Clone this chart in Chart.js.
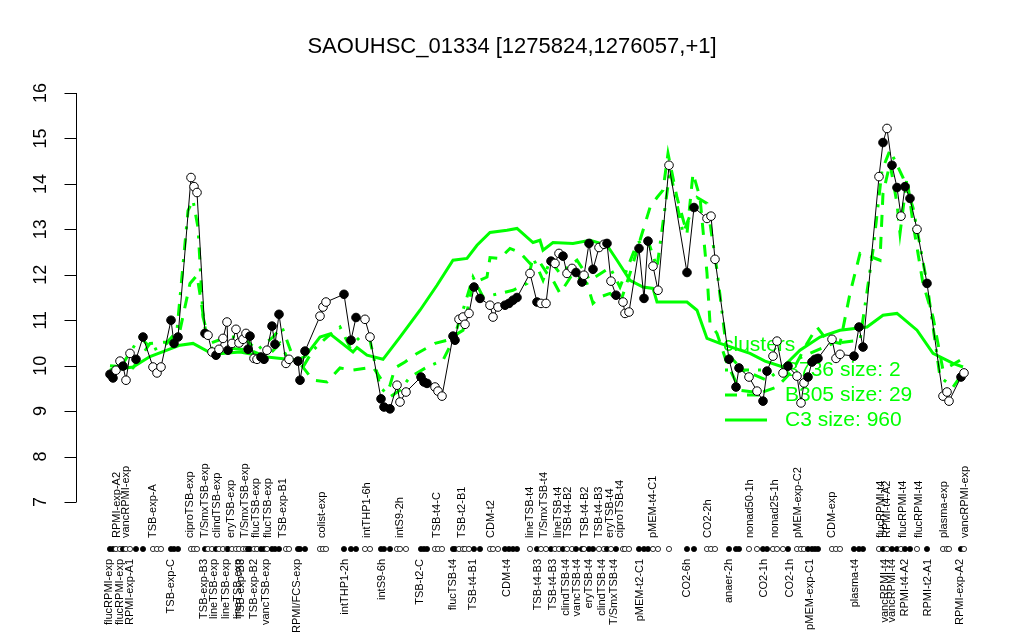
<!DOCTYPE html>
<html>
<head>
<meta charset="utf-8">
<script src="https://cdn.jsdelivr.net/npm/chart.js@4.4.1/dist/chart.umd.min.js"></script>
<style>
  body { margin: 0; background: #fff; }
  #wrap { width: 1024px; height: 640px; }
</style>
</head>
<body>
<div id="wrap"><canvas id="chart" width="1024" height="640"></canvas></div>
<script>
// sample positions along the x axis and expression of SAOUHSC_01334
const samplePos = [1.0,1.6,2.2,3.0,3.6,4.2,5.0,6.2,7.6,9.6,10.4,11.2,13.2,13.8,14.6,17.2,17.8,18.4,20.0,20.6,21.4,22.2,22.8,23.6,24.4,24.6,25.4,26.2,26.8,27.6,28.2,28.6,29.0,29.8,30.4,31.2,31.8,32.4,33.4,34.0,34.8,36.2,36.8,38.6,39.0,40.0,43.0,43.6,44.2,47.8,49.2,50.2,52.0,53.0,55.2,55.8,57.0,58.4,59.0,60.2,63.2,63.8,64.4,66.0,66.6,67.4,69.6,70.0,70.8,71.6,72.0,72.8,73.8,75.0,77.0,77.6,78.6,80.0,80.8,81.6,82.4,85.0,86.4,87.2,88.2,89.2,90.0,90.8,91.6,92.4,93.4,94.2,95.4,95.8,96.8,97.6,98.8,99.8,100.4,101.2,102.2,103.6,104.0,104.8,106.8,107.8,108.6,109.6,110.6,112.8,116.4,117.8,120.4,121.2,122.0,124.8,126.2,126.8,128.8,130.4,131.6,132.4,133.6,134.4,135.6,136.6,138.4,139.2,139.8,140.6,141.4,142.0,142.6,145.4,146.2,147.0,149.8,150.8,151.6,154.8,155.6,156.4,157.4,158.4,159.2,160.0,161.0,162.4,164.4,167.6,168.4,168.8,171.2,171.8];
const expression = [9.81,9.73,9.90,10.10,9.99,9.68,10.27,10.14,10.63,9.97,9.84,9.97,11.00,10.49,10.63,14.14,13.94,13.81,10.71,10.67,10.30,10.23,10.36,10.60,10.96,10.34,10.49,10.80,10.50,10.58,10.71,10.36,10.65,10.16,10.14,10.19,10.14,10.34,10.87,10.47,11.13,10.05,10.14,10.10,9.68,10.32,11.09,11.29,11.40,11.57,10.56,11.06,11.02,10.63,9.27,9.09,9.05,9.57,9.20,9.42,9.75,9.64,9.61,9.53,9.44,9.33,10.65,10.56,11.02,11.07,10.91,11.15,11.73,11.48,11.33,11.07,11.29,11.33,11.37,11.44,11.50,12.03,11.40,11.37,11.37,12.30,12.25,12.47,12.41,12.03,12.14,12.05,11.84,11.99,12.69,12.12,12.60,12.67,12.69,11.86,11.55,11.40,11.15,11.18,12.58,11.48,12.74,12.19,11.66,14.41,12.05,13.48,13.24,13.29,12.34,10.14,9.53,9.95,9.75,9.44,9.22,9.88,10.21,10.54,9.84,9.99,9.77,9.18,9.62,9.75,10.08,10.14,10.16,10.58,10.16,10.25,10.21,10.85,10.41,14.16,14.91,15.22,14.41,13.92,13.29,13.94,13.68,13.00,11.81,9.33,9.42,9.22,9.75,9.84];
const filledMark = [1,1,0,0,1,0,0,1,1,0,0,0,1,1,1,0,0,0,1,0,0,1,0,0,0,1,0,0,0,0,0,1,1,0,0,1,1,0,1,1,1,0,0,1,1,1,0,0,0,1,1,1,0,0,1,1,1,0,0,0,1,1,1,0,0,0,1,1,0,0,0,0,1,1,0,0,0,1,1,1,1,0,1,0,0,1,0,0,1,0,0,1,1,0,1,1,0,0,1,0,1,0,0,0,1,1,1,0,0,0,1,1,0,0,0,1,1,1,0,0,1,1,0,0,0,1,0,0,0,1,1,1,1,0,0,0,1,1,1,0,1,0,1,1,0,1,1,0,1,0,0,0,1,0];

// cluster profiles
const c3Pos = [1.0,5.6,9.0,12.4,15.0,17.6,21.6,27.0,32.4,38.4,40.0,43.0,45.0,49.6,50.4,52.4,55.6,59.0,63.0,66.4,69.6,72.4,74.4,77.0,80.4,82.4,85.6,87.0,87.6,89.6,93.6,97.0,100.4,102.4,105.0,107.6,109.6,110.4,116.4,118.4,120.4,123.0,129.0,132.0,135.6,139.0,143.0,147.0,152.4,155.6,158.4,159.6,162.4,165.6,169.6,171.6];
const c3Values = [9.90,9.97,10.20,10.34,10.45,10.49,10.25,10.30,10.19,10.12,10.20,10.63,10.70,10.30,10.40,10.23,10.14,10.63,11.22,11.77,12.32,12.36,12.65,12.93,12.98,13.02,12.71,12.76,12.54,12.71,12.69,12.76,12.65,12.32,11.88,11.73,11.70,11.40,11.40,11.22,10.60,10.49,10.27,10.10,9.97,10.34,10.63,10.78,10.85,11.11,11.15,11.04,10.78,10.27,10.05,9.97];
const b305Pos = [1.0,5.6,9.0,12.4,15.0,17.0,18.4,19.4,20.4,21.6,25.6,29.0,32.4,35.0,36.4,39.0,41.6,44.4,47.0,49.4,53.6,55.6,57.0,58.0,60.0,62.4,66.0,68.4,71.6,73.6,76.4,77.0,79.0,81.0,83.0,85.0,87.0,88.4,89.6,91.0,93.6,96.4,97.6,99.0,101.0,103.0,105.0,107.0,109.0,110.4,111.6,112.6,114.4,116.4,117.6,119.0,120.4,121.0,122.4,124.4,127.0,131.0,134.4,137.6,140.4,142.4,144.4,147.0,149.0,151.0,153.6,155.0,155.6,157.0,158.4,159.0,160.4,161.6,163.6,165.6,167.6,171.0];
const b305Values = [10.00,9.95,10.49,10.52,10.78,11.81,11.99,11.29,10.56,10.34,10.38,10.34,10.19,10.49,10.19,10.05,9.68,9.64,9.95,9.90,9.97,9.64,9.57,9.95,10.08,10.27,10.49,10.56,10.78,11.81,11.95,12.38,12.36,12.58,12.49,12.25,12.27,12.03,11.88,11.59,12.03,11.81,11.37,11.51,11.59,11.37,12.03,12.76,13.48,13.70,13.86,14.67,13.70,12.91,14.23,13.70,12.03,10.93,10.71,10.05,9.46,9.40,9.53,9.90,10.49,10.85,10.56,10.49,11.59,12.47,12.38,12.32,13.79,14.45,13.57,12.91,14.14,13.13,11.81,11.07,9.90,10.12];
const b736Pos = [1.0,3.6,7.0,9.6,12.4,14.4,16.6,17.6,18.6,19.6,21.0,24.4,27.6,30.4,33.6,35.4,37.6,39.6,41.6,44.4,47.0,49.0,51.0,53.0,55.0,57.0,59.0,61.0,64.4,67.6,69.6,71.6,73.6,75.6,79.0,81.6,84.4,85.6,87.6,89.0,91.0,94.4,97.0,101.0,103.0,106.4,108.4,110.4,113.0,115.6,118.4,120.4,122.4,124.4,127.6,132.4,136.4,141.0,145.6,151.0,153.6,155.4,157.0,159.6,161.6,164.4,167.0,169.6,171.6];
const b736Values = [9.90,10.05,10.63,10.34,10.49,10.78,13.41,13.64,13.04,11.07,10.49,10.63,10.63,10.34,10.63,10.85,10.19,9.97,10.34,10.63,10.85,10.41,10.63,10.56,9.53,9.31,9.46,9.75,9.97,10.12,10.56,11.22,11.95,11.51,11.59,11.66,11.81,12.38,11.88,12.32,12.03,12.32,11.88,12.16,11.73,12.69,12.82,12.16,14.30,12.91,13.70,13.57,12.10,10.27,9.90,9.68,10.05,10.27,10.49,10.56,12.54,14.30,14.74,14.14,13.48,11.81,9.75,9.53,9.84];

// condition labels written above and below the marker row
const topLabelPos = [2.4,4.2,9.6,17.0,20.0,22.4,25.2,28.0,30.2,32.6,35.6,43.4,52.4,59.0,66.4,71.4,77.2,85.0,87.8,90.6,92.6,96.0,98.8,101.0,103.0,109.6,120.6,129.0,134.0,138.6,145.4,155.2,156.4,159.6,162.8,167.8,172.0];
const topLabelText = ["RPMI-exp-A2","vancRPMI-exp","TSB-exp-A","ciproTSB-exp","T/SmxTSB-exp","clindTSB-exp","eryTSB-exp","T/SmxTSB-exp","flucTSB-exp","flucTSB-exp","TSB-exp-B1","colist-exp","intTHP1-6h","intS9-2h","TSB-t4-C","TSB-t2-B1","CDM-t2","lineTSB-t4","T/SmxTSB-t4","lineTSB-t4","TSB-t4-B2","TSB-t4-B2","TSB-t4-B3","eryTSB-t4","ciproTSB-t4","pMEM-t4-C1","CO2-2h","nonad50-1h","nonad25-1h","pMEM-exp-C2","CDM-exp","flucRPMI-t4","RPMI-t4-A2","flucRPMI-t4","flucRPMI-t4","plasma-exp","vancRPMI-exp"];
const bottomLabelPos = [0.8,3.0,5.0,13.2,19.8,21.8,24.2,26.6,27.2,29.8,32.2,38.4,48.0,55.4,63.0,69.6,73.6,80.4,86.6,89.6,92.2,94.4,96.8,99.4,101.8,107.0,116.4,124.8,131.8,137.0,141.0,150.0,156.0,157.4,160.0,164.6,171.0];
const bottomLabelText = ["flucRPMI-exp","flucRPMI-exp","RPMI-exp-A1","TSB-exp-C","TSB-exp-B3","lineTSB-exp","lineTSB-exp","lineTSB-exp","TSB-exp-B3","TSB-exp-B2","vancTSB-exp","RPMI/FCS-exp","intTHP1-2h","intS9-6h","TSB-t2-C","flucTSB-t4","TSB-t4-B1","CDM-t4","TSB-t4-B3","TSB-t4-B3","clindTSB-t4","vancTSB-t4","eryTSB-t4","clindTSB-t4","T/SmxTSB-t4","pMEM-t2-C1","CO2-6h","anaer-2h","CO2-1h","CO2-1h","pMEM-exp-C1","plasma-t4","vancRPMI-t4","vancRPMI-t4","RPMI-t4-A2","RPMI-t2-A1","RPMI-exp-A2"];

const yTicks = [7, 8, 9, 10, 11, 12, 13, 14, 15, 16];
const legendText = ["B736 size: 2", "B305 size: 29", "C3 size: 960"];
const legendDash = [[3, 9, 12, 9], [12, 10], []];

const GREEN = "#00ff00";
const FONT = "'Liberation Sans', Arial, Helvetica, sans-serif";

function pairs(xs, ys) {
    return xs.map((x, i) => ({ x: x, y: ys[i] }));
}

// R style drawing: title, y axis, legend, marker row and rotated labels
const rDecor = {
    id: "rDecor",
    beforeDatasetsDraw(chart) {
        const ctx = chart.ctx;
        ctx.save();
        ctx.fillStyle = GREEN;
        ctx.strokeStyle = GREEN;
        ctx.font = "21px " + FONT;
        ctx.textBaseline = "middle";
        ctx.textAlign = "left";
        ctx.fillText("clusters", 723, 345);
        legendText.forEach((t, i) => {
            const y = 370 + i * 25;
            ctx.lineWidth = 3;
            ctx.setLineDash(legendDash[i]);
            ctx.beginPath();
            ctx.moveTo(725, y);
            ctx.lineTo(767, y);
            ctx.stroke();
            ctx.setLineDash([]);
            ctx.fillText(t, 785, y);
        });
        ctx.restore();
    },
    afterDraw(chart) {
        const ctx = chart.ctx;
        const xs = chart.scales.x;
        const ys = chart.scales.y;
        ctx.save();
        ctx.fillStyle = "#000";
        ctx.strokeStyle = "#000";

        // title
        ctx.font = "22px " + FONT;
        ctx.textAlign = "center";
        ctx.textBaseline = "middle";
        ctx.fillText("SAOUHSC_01334 [1275824,1276057,+1]", 512, 47);

        // y axis
        const ax = chart.chartArea.left + 0.5;
        ctx.lineWidth = 1;
        ctx.beginPath();
        ctx.moveTo(ax, ys.getPixelForValue(yTicks[0]));
        ctx.lineTo(ax, ys.getPixelForValue(yTicks[yTicks.length - 1]));
        yTicks.forEach(v => {
            const py = Math.round(ys.getPixelForValue(v)) + 0.5;
            ctx.moveTo(ax, py);
            ctx.lineTo(ax - 12, py);
        });
        ctx.stroke();
        ctx.font = "18px " + FONT;
        yTicks.forEach(v => {
            ctx.save();
            ctx.translate(41, ys.getPixelForValue(v));
            ctx.rotate(-Math.PI / 2);
            ctx.fillText(String(v), 0, 0);
            ctx.restore();
        });

        // marker row
        const rowY = 549;
        samplePos.forEach((p, i) => {
            ctx.beginPath();
            ctx.arc(xs.getPixelForValue(p), rowY, 2.6, 0, Math.PI * 2);
            ctx.fillStyle = filledMark[i] ? "#000" : "#fff";
            ctx.fill();
            ctx.lineWidth = 0.8;
            ctx.stroke();
        });

        // rotated condition labels
        ctx.fillStyle = "#000";
        ctx.font = "11px " + FONT;
        ctx.textBaseline = "middle";
        topLabelPos.forEach((p, i) => {
            ctx.save();
            ctx.translate(xs.getPixelForValue(p), 538);
            ctx.rotate(-Math.PI / 2);
            ctx.textAlign = "left";
            ctx.fillText(topLabelText[i], 0, 0);
            ctx.restore();
        });
        bottomLabelPos.forEach((p, i) => {
            ctx.save();
            ctx.translate(xs.getPixelForValue(p), 559);
            ctx.rotate(-Math.PI / 2);
            ctx.textAlign = "right";
            ctx.fillText(bottomLabelText[i], 0, 0);
            ctx.restore();
        });
        ctx.restore();
    }
};

new Chart(document.getElementById("chart"), {
    type: "line",
    data: {
        datasets: [
            {
                label: "expression",
                data: pairs(samplePos, expression),
                borderColor: "#000",
                borderWidth: 1,
                pointRadius: 4.3,
                pointBorderWidth: 1,
                pointBorderColor: "#000",
                pointBackgroundColor: filledMark.map(f => f ? "#000" : "#fff"),
                tension: 0,
                order: 0
            },
            {
                label: legendText[0],
                data: pairs(b736Pos, b736Values),
                borderColor: GREEN,
                borderWidth: 3,
                borderDash: legendDash[0],
                pointRadius: 0,
                tension: 0,
                order: 1
            },
            {
                label: legendText[1],
                data: pairs(b305Pos, b305Values),
                borderColor: GREEN,
                borderWidth: 3,
                borderDash: legendDash[1],
                pointRadius: 0,
                tension: 0,
                order: 2
            },
            {
                label: legendText[2],
                data: pairs(c3Pos, c3Values),
                borderColor: GREEN,
                borderWidth: 3,
                pointRadius: 0,
                tension: 0,
                order: 3
            }
        ]
    },
    options: {
        responsive: false,
        animation: false,
        layout: { padding: { left: 76, right: 26, top: 77, bottom: 122 } },
        scales: {
            x: { type: "linear", min: -5.8, max: 178.6, display: false },
            y: { type: "linear", min: 6.648, max: 16.352, display: false }
        },
        plugins: {
            legend: { display: false },
            tooltip: { enabled: false }
        }
    },
    plugins: [rDecor]
});
</script>
</body>
</html>
